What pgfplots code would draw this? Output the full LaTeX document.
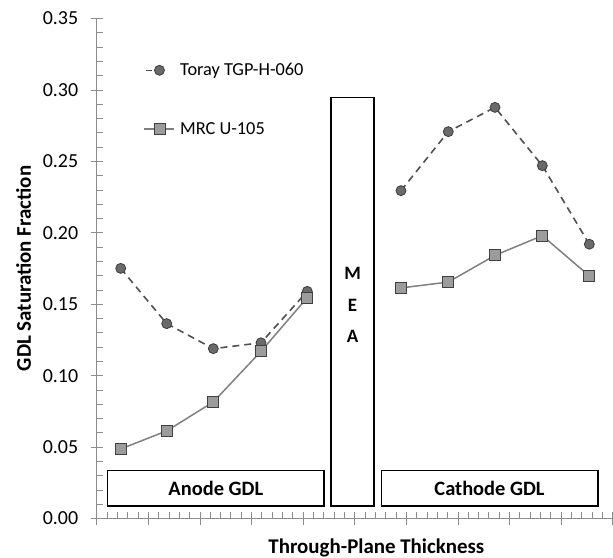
\documentclass[border=0pt]{standalone}
\usepackage{fontspec}
\setmainfont{Carlito}
\usepackage{pgfplots}
\pgfplotsset{compat=1.18}
\definecolor{torayfill}{HTML}{6A6A6A}
\definecolor{toraydraw}{HTML}{3C3C3C}
\definecolor{torayline}{HTML}{505050}
\definecolor{mrcfill}{HTML}{9C9C9C}
\definecolor{mrcdraw}{HTML}{404040}
\definecolor{mrcline}{HTML}{808080}
\definecolor{axisgray}{HTML}{8C8C8C}
\begin{document}
\begin{tikzpicture}
\begin{axis}[
  scale only axis, width=516bp, height=500bp,
  xmin=0, xmax=10, ymin=0, ymax=0.35,
  axis lines=left, axis line style={-, draw=axisgray, line width=0.9bp},
  xtick={0,1,2,3,4,5,6,7,8,9,10}, xticklabels={},
  minor x tick num=4,
  ytick={0,0.05,0.1,0.15,0.2,0.25,0.3,0.35},
  minor y tick num=4,
  yticklabel style={/pgf/number format/fixed, /pgf/number format/fixed zerofill, /pgf/number format/precision=2, xshift=-15bp},
  /pgf/number format/assume math mode=true,
  tick align=inside, major tick length=12bp, minor tick length=6bp,
  major x tick style={yshift=-6bp}, major y tick style={xshift=-6bp},
  tick style={draw=axisgray, line width=0.8bp},
  ticklabel style={font=\fontsize{20}{24}\selectfont},
  xlabel={\bfseries Through-Plane Thickness},
  xlabel style={at={(axis description cs:0.542,0)}, anchor=center, yshift=-29.5bp, font=\fontsize{21}{25}\selectfont},
  ylabel={\bfseries GDL Saturation Fraction},
  ylabel style={at={(axis description cs:0,0.5)}, anchor=center, yshift=73bp, font=\fontsize{21}{25}\selectfont},
  unbounded coords=jump,
  legend style={draw=none, fill=none, at={(axis cs:0.907,0.2933)}, anchor=west, inner sep=0pt, row sep=41bp, font=\fontsize{18.4}{22}\selectfont, nodes={inner xsep=5bp}},
  legend cell align=left,
  legend image code/.code={\draw[mark repeat=2,mark phase=2] plot coordinates {(0bp,0bp) (15bp,0bp) (30bp,0bp)};},
]
\addplot[torayline, line width=1.6bp, dash pattern=on 7bp off 5bp, mark=*, mark size=5bp, mark options={solid, fill=torayfill, draw=toraydraw, line width=0.8bp},
  legend image code/.code={\draw[solid, torayline, line width=1.6bp] (2bp,0bp) -- (8bp,0bp); \draw[mark=*, mark size=5bp, mark options={solid, fill=torayfill, draw=toraydraw, line width=0.8bp}] plot coordinates {(15bp,0bp)};}]
  coordinates {(0.465,0.1751) (1.357,0.1364) (2.26,0.1189) (3.184,0.123) (4.081,0.159) (4.99,nan) (5.897,0.2295) (6.814,0.2708) (7.719,0.2878) (8.636,0.247) (9.547,0.192)};
\addlegendentry{Toray TGP-H-060}
\addplot[mrcline, line width=1.5bp, mark=square*, mark size=5.5bp, mark options={solid, fill=mrcfill, draw=mrcdraw, line width=0.8bp}]
  coordinates {(0.465,0.0487) (1.357,0.0613) (2.26,0.0816) (3.184,0.117) (4.081,0.1546) (4.99,nan) (5.897,0.1614) (6.814,0.1655) (7.719,0.1842) (8.636,0.198) (9.547,0.1698)};
\addlegendentry{MRC U-105}
\draw[line width=1.6bp] (axis cs:0.213,0.00875) rectangle (axis cs:4.405,0.0335);
\draw[line width=1.6bp] (axis cs:4.54,0.00875) rectangle (axis cs:5.37,0.2946);
\draw[line width=1.6bp] (axis cs:5.516,0.00875) rectangle (axis cs:9.71,0.0335);
\node[font=\bfseries\fontsize{20.5}{24}\selectfont] at (axis cs:2.309,0.0211) {Anode GDL};
\node[font=\bfseries\fontsize{20.5}{24}\selectfont] at (axis cs:7.613,0.0211) {Cathode GDL};
\node[font=\bfseries\fontsize{19}{23}\selectfont] at (axis cs:4.958,0.1718) {M};
\node[font=\bfseries\fontsize{19}{23}\selectfont] at (axis cs:4.958,0.1494) {E};
\node[font=\bfseries\fontsize{19}{23}\selectfont] at (axis cs:4.958,0.1273) {A};
\end{axis}
\pgfresetboundingbox
\path[use as bounding box] (-96.7bp,-39.5bp) rectangle (516.3bp,518.5bp);
\end{tikzpicture}
\end{document}
